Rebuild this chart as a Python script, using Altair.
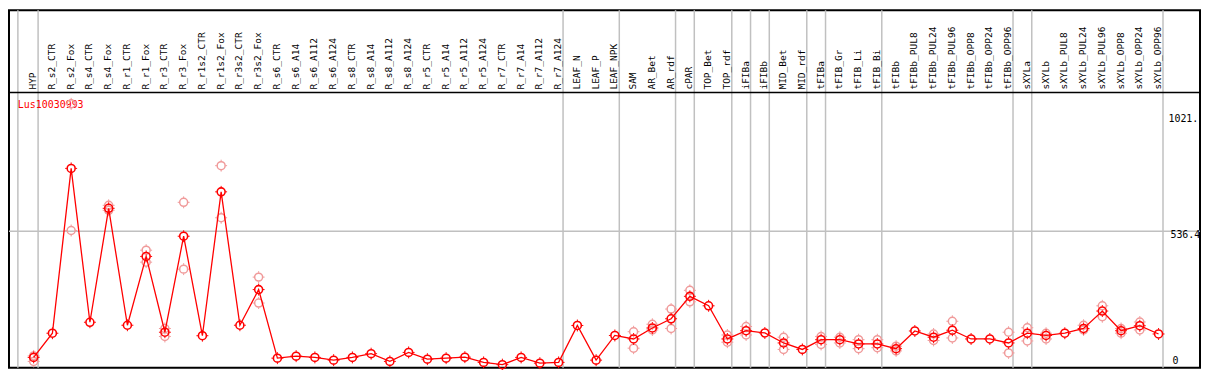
import altair as alt
import pandas as pd

# ---------------- data ----------------
categories = [
    "HYP", "R_s2_CTR", "R_s2_Fox", "R_s4_CTR", "R_s4_Fox", "R_r1_CTR", "R_r1_Fox",
    "R_r3_CTR", "R_r3_Fox", "R_r1s2_CTR", "R_r1s2_Fox", "R_r3s2_CTR", "R_r3s2_Fox",
    "R_s6_CTR", "R_s6_A14", "R_s6_A112", "R_s6_A124", "R_s8_CTR", "R_s8_A14",
    "R_s8_A112", "R_s8_A124", "R_r5_CTR", "R_r5_A14", "R_r5_A112", "R_r5_A124",
    "R_r7_CTR", "R_r7_A14", "R_r7_A112", "R_r7_A124", "LEAF_N", "LEAF_P", "LEAF_NPK",
    "SAM", "AR_Bet", "AR_rdf", "cPAR", "TOP_Bet", "TOP_rdf", "iFIBa", "iFIBb",
    "MID_Bet", "MID_rdf", "tFIBa", "tFIB_Gr", "tFIB_Li", "tFIB_Bi", "tFIBb",
    "tFIBb_PUL8", "tFIBb_PUL24", "tFIBb_PUL96", "tFIBb_OPP8", "tFIBb_OPP24",
    "tFIBb_OPP96", "sXYLa", "sXYLb", "sXYLb_PUL8", "sXYLb_PUL24", "sXYLb_PUL96",
    "sXYLb_OPP8", "sXYLb_OPP24", "sXYLb_OPP96",
]
mean_values = [
    30, 127, 788, 171, 628, 159, 435, 131, 516, 117, 694, 159, 302,
    27, 35, 30, 19, 30, 45, 14, 50, 23, 27, 31, 10, 1, 30, 7, 10,
    158, 19, 118, 104, 148, 185, 275, 237, 104, 137, 128, 88, 62,
    101, 101, 84, 84, 65, 136, 111, 139, 104, 104, 88,
    127, 118, 127, 146, 216, 137, 157, 124,
]
rep_categories = [
    "HYP", "HYP", "R_s2_Fox", "R_s2_Fox", "R_s4_Fox", "R_s4_Fox", "R_r1_Fox", "R_r1_Fox",
    "R_r3_CTR", "R_r3_CTR", "R_r3_Fox", "R_r3_Fox", "R_r1s2_Fox", "R_r1s2_Fox",
    "R_r3s2_Fox", "R_r3s2_Fox", "SAM", "SAM", "AR_Bet", "AR_Bet", "AR_rdf", "AR_rdf",
    "cPAR", "cPAR", "TOP_rdf", "TOP_rdf", "iFIBa", "iFIBa", "MID_Bet", "MID_Bet",
    "tFIBa", "tFIBa", "tFIB_Gr", "tFIB_Gr", "tFIB_Li", "tFIB_Li", "tFIB_Bi", "tFIB_Bi",
    "tFIBb", "tFIBb", "tFIBb_PUL24", "tFIBb_PUL24", "tFIBb_PUL96", "tFIBb_PUL96",
    "tFIBb_OPP96", "tFIBb_OPP96", "sXYLa", "sXYLa", "sXYLb", "sXYLb",
    "sXYLb_PUL24", "sXYLb_PUL24", "sXYLb_PUL96", "sXYLb_PUL96",
    "sXYLb_OPP8", "sXYLb_OPP8", "sXYLb_OPP24", "sXYLb_OPP24",
]
rep_values = [
    36, 14, 539, 1047, 640, 620, 460, 412,
    146, 114, 652, 384, 799, 590,
    352, 248, 133, 67, 163, 140, 224, 146,
    299, 253, 120, 91, 154, 120, 111, 62,
    114, 82, 111, 88, 101, 65, 101, 69,
    56, 75, 124, 98, 175, 108,
    131, 48, 149, 96, 127, 104,
    159, 140, 237, 193,
    146, 127, 172, 140,
]
# groups end after these categories (gray separator lines)
group_ends = [
    "HYP", "R_r7_A124", "LEAF_NPK", "AR_rdf", "cPAR", "TOP_rdf", "iFIBa", "iFIBb",
    "MID_rdf", "tFIBa", "tFIB_Bi", "tFIBb_OPP96", "sXYLa", "sXYLb_OPP96",
]
tick_values = [0, 536.4, 1021]
tick_labels = ["0", "536.4", "1021."]
gene_id = "Lus10030993"
y_max = 1021

# ---------------- geometry / style ----------------
W, H = 1199, 360
SX, SY = W / 1207, H / 369
X_RANGE = [25 * SX, 1165 * SX]
Y_RANGE = [366 * SY, (366 - 0.2573 * y_max) * SY]
HEADER_Y = 85 * SY
RED = "#ff0000"
PINK = "#f09a9a"
GRID = "#c0c0c0"
FONT = "DejaVu Sans Mono"

main_df = pd.DataFrame({"cat": categories, "value": mean_values})
rep_df = pd.DataFrame({"cat": rep_categories, "value": rep_values})
sep_df = pd.DataFrame({"cat": group_ends})
lab_df = pd.DataFrame({"cat": categories})
tick_df = pd.DataFrame({"value": tick_values, "label": tick_labels})

xs = alt.Scale(type="point", domain=categories, range=X_RANGE, padding=0)
ys = alt.Scale(type="linear", domain=[0, y_max], range=Y_RANGE, nice=False, zero=False)
X = alt.X("cat:N", scale=xs, axis=None, sort=categories)
Y = alt.Y("value:Q", scale=ys, axis=None)

sep_first = alt.Chart(pd.DataFrame({"cat": ["HYP"]})).mark_rule(
    color=GRID, strokeWidth=1.5, xOffset=-16 * SX
).encode(x=X, y=alt.value(0), y2=alt.value(H))

seps = alt.Chart(sep_df).mark_rule(
    color=GRID, strokeWidth=1.5, xOffset=4.5 * SX
).encode(x=X, y=alt.value(0), y2=alt.value(H))

hgrid = alt.Chart(tick_df[tick_df["label"] == "536.4"]).mark_rule(
    color=GRID, strokeWidth=1.5
).encode(y=Y, x=alt.value(0), x2=alt.value(W))

header_line = alt.Chart(pd.DataFrame({"v": [0]})).mark_rule(
    color="black", strokeWidth=1.5
).encode(y=alt.value(HEADER_Y), x=alt.value(0), x2=alt.value(W))

header_text = alt.Chart(lab_df).mark_text(
    angle=270, align="left", baseline="middle", font=FONT, fontSize=9.6,
    color="black", xOffset=-0.5
).encode(x=X, y=alt.value(HEADER_Y - 3), text="cat:N")

gene_text = alt.Chart(pd.DataFrame({"t": [gene_id]})).mark_text(
    align="left", baseline="middle", font=FONT, fontSize=10, color=RED
).encode(x=alt.value(9 * SX), y=alt.value(98 * SY), text="t:N")

tick_layers = []
tick_offsets = {"0": -4, "536.4": 4, "1021.": 9}
tick_x = {"0": 1179, "536.4": 1177, "1021.": 1175}
for lab in tick_labels:
    tick_layers.append(
        alt.Chart(tick_df[tick_df["label"] == lab]).mark_text(
            align="left", baseline="middle", font=FONT, fontSize=10, color="black",
            yOffset=tick_offsets[lab] * SY
        ).encode(y=Y, x=alt.value(tick_x[lab] * SX), text="label:N")
    )

TICKS = "M0,-1L0,-0.72M0,0.72L0,1M-1,0L-0.72,0M0.72,0L1,0"

rep_pts = alt.Chart(rep_df).mark_point(
    shape="circle", filled=False, color=PINK, size=64, strokeWidth=1.5, opacity=1
).encode(x=X, y=Y)
rep_ticks = alt.Chart(rep_df).mark_point(
    shape=TICKS, filled=False, color=PINK, size=144, strokeWidth=1, opacity=1
).encode(x=X, y=Y)

line = alt.Chart(main_df).mark_line(color=RED, strokeWidth=1.3).encode(x=X, y=Y)

main_pts = alt.Chart(main_df).mark_point(
    shape="circle", filled=False, color=RED, size=64, strokeWidth=1.6, opacity=1
).encode(x=X, y=Y)
main_ticks = alt.Chart(main_df).mark_point(
    shape=TICKS, filled=False, color=RED, size=144, strokeWidth=1, opacity=1
).encode(x=X, y=Y)

chart = alt.layer(
    sep_first, seps, hgrid, header_line, header_text, gene_text, *tick_layers,
    rep_pts, rep_ticks, line, main_pts, main_ticks,
).properties(
    width=W, height=H,
    background="white",
    autosize=alt.AutoSizeParams(type="none"),
    padding={"left": 1, "top": 1, "right": 1, "bottom": 1},
).configure_view(
    stroke="black", strokeWidth=2
)

chart.save("out.html", embed_options={"renderer": "svg", "actions": False})
